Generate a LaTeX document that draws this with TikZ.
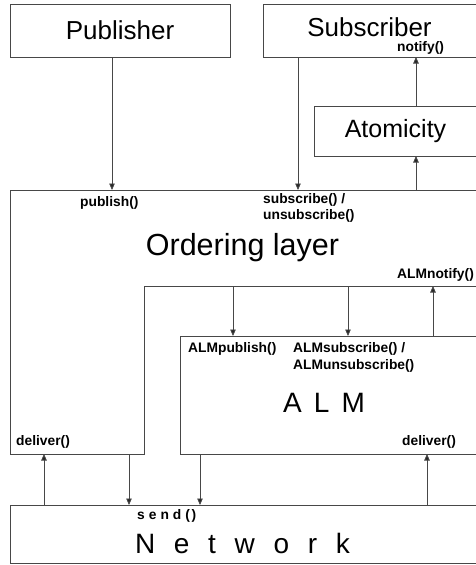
\documentclass[tikz,border=0pt]{standalone}
\usepackage{fontspec}
\setmainfont{Liberation Sans}
\usetikzlibrary{arrows.meta}
\begin{document}
\begin{tikzpicture}[x=1pt,y=-1pt,
  line/.style={draw=black!72, line width=0.85pt},
  box/.style={line, rectangle, anchor=north west, inner sep=0pt, outer sep=0pt},
  arr/.style={line, -{Triangle[length=6.5pt,width=5.5pt,fill=black!85]}},
  call/.style={font=\bfseries\fontsize{13.8}{16}\selectfont, inner sep=0pt, anchor=west, align=left},
]
\useasboundingbox (0,0) rectangle (476,565);
\clip (0,0) rectangle (476,565);
\fill[white] (0,0) rectangle (476,565);

% boxes
\node[box, minimum width=220pt, minimum height=53pt, font=\fontsize{26}{30}\selectfont] (pub) at (10,4) {Publisher};
\node[box, minimum width=214pt, minimum height=53pt] (sub) at (263,4) {};
\node[font=\fontsize{26}{30}\selectfont, inner sep=0pt] (subtxt) at (369.5,27) {Subscriber};
\node[box, minimum width=163pt, minimum height=50pt, font=\fontsize{25}{30}\selectfont] (atom) at (314,106) {Atomicity};
\node[box, minimum width=297pt, minimum height=118pt] (alm) at (180,336) {};
\node[box, minimum width=467pt, minimum height=58pt] (net) at (10,505) {};

% ordering layer outline
\coordinate (ordtop) at (0,190);
\coordinate (ordmid) at (0,286);
\coordinate (ordbot) at (0,454);
\draw[line] (10,190) -- (477,190) -- (477,286) -- (144,286) -- (144,454) -- (10,454) -- cycle;

% big labels
\node[font=\fontsize{30.5}{34}\selectfont, inner sep=0pt] (ord) at (242.5,248) {Ordering layer};
\node[font=\fontsize{28}{32}\selectfont, inner sep=0pt] (almtxt) at (324,403) {A\hspace{12.2pt}L\hspace{12.2pt}M};
\node[font=\fontsize{28}{32}\selectfont, inner sep=0pt] (nettxt) at (242.5,543)
  {N\hspace{18.7pt}e\hspace{18.7pt}t\hspace{18.7pt}w\hspace{18.7pt}o\hspace{18.7pt}r\hspace{18.7pt}k};

% interface calls
\node[call] (lnotify) at (397,48) {notify()};
\node[call] (lpub) at (80,203) {publish()};
\node[call] (lsub) at (263,208) {subscribe() /\\unsubscribe()};
\node[call] (lalmnot) at (397,275) {ALMnotify()};
\node[call] (lalmpub) at (188,349) {ALMpublish()};
\node[call, font=\bfseries\fontsize{13.8}{17}\selectfont] (lalmsub) at (293,357.5) {ALMsubscribe() /\\ALMunsubscribe()};
\node[call] (ldelo) at (16,442) {deliver()};
\node[call] (ldela) at (402,442) {deliver()};
\node[call] (lsend) at (137,516) {s\hspace{4pt}e\hspace{4pt}n\hspace{4pt}d\hspace{4pt}(\hspace{1.5pt})};

% connector positions
\coordinate (xpub) at (112,0);
\coordinate (xsub) at (298,0);
\coordinate (xatom) at (416,0);
\coordinate (xalmpub) at (233,0);
\coordinate (xalmsub) at (348,0);
\coordinate (xalmnot) at (433,0);
\coordinate (xdelo) at (44,0);
\coordinate (xsendo) at (129,0);
\coordinate (xsenda) at (200,0);
\coordinate (xdela) at (427,0);

% connectors
\draw[arr] (pub.south -| xpub) -- (ordtop -| xpub);
\draw[arr] (sub.south -| xsub) -- (ordtop -| xsub);
\draw[arr] (ordtop -| xatom) -- (atom.south -| xatom);
\draw[arr] (atom.north -| xatom) -- (sub.south -| xatom);
\draw[arr] (ordmid -| xalmpub) -- (alm.north -| xalmpub);
\draw[arr] (ordmid -| xalmsub) -- (alm.north -| xalmsub);
\draw[arr] (alm.north -| xalmnot) -- (ordmid -| xalmnot);
\draw[arr] (net.north -| xdelo) -- (ordbot -| xdelo);
\draw[arr] (ordbot -| xsendo) -- (net.north -| xsendo);
\draw[arr] (alm.south -| xsenda) -- (net.north -| xsenda);
\draw[arr] (net.north -| xdela) -- (alm.south -| xdela);
\end{tikzpicture}
\end{document}
